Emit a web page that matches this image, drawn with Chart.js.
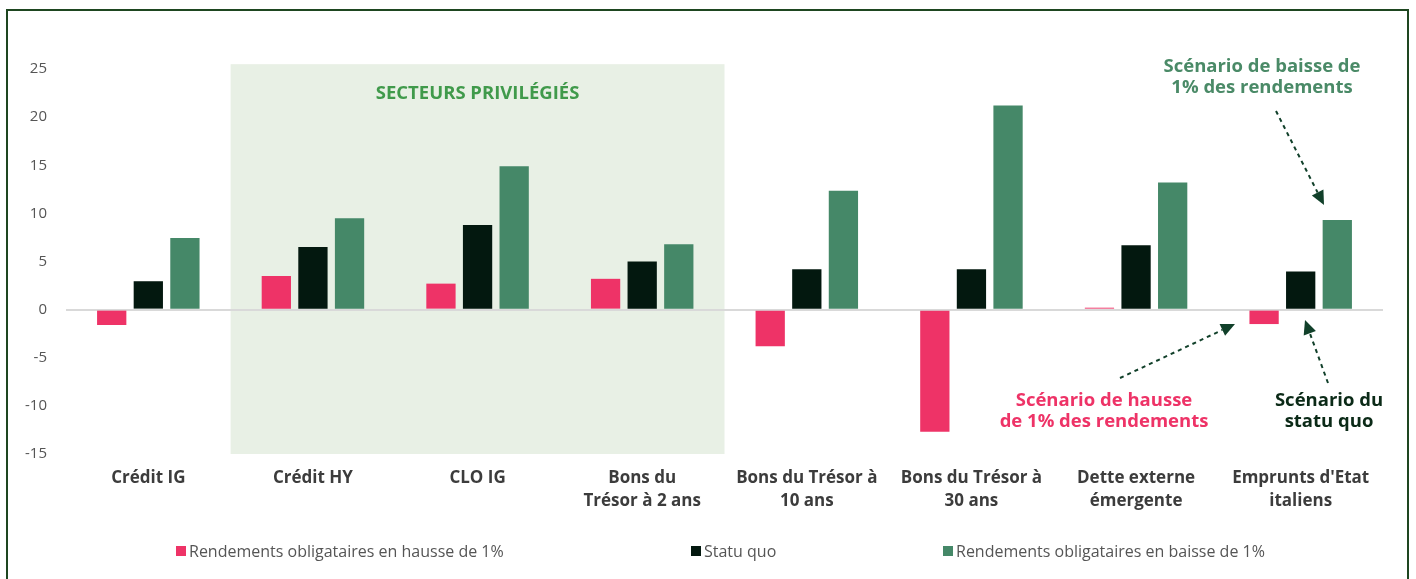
<!DOCTYPE html>
<html>
<head>
<meta charset="utf-8">
<script src="https://cdn.jsdelivr.net/npm/chart.js@4/dist/chart.umd.min.js"></script>
<style>
  html, body { margin: 0; padding: 0; background: #ffffff; overflow: hidden; }
  #wrap { position: relative; width: 1416px; height: 579px; }
  #frame { position: absolute; left: 6px; top: 9px; width: 1403px; height: 700px;
           border: 2px solid #1e4620; border-bottom: none; box-sizing: border-box; pointer-events: none; }
  canvas { position: absolute; left: 0; top: 0; }
</style>
</head>
<body>
<div id="wrap">
  <canvas id="c" width="1416" height="579"></canvas>
  <div id="frame"></div>
</div>
<script>
// ---------- DATA ----------
const categories = [
  ["Crédit IG"],
  ["Crédit HY"],
  ["CLO IG"],
  ["Bons du", "Trésor à 2 ans"],
  ["Bons du Trésor à", "10 ans"],
  ["Bons du Trésor à", "30 ans"],
  ["Dette externe", "émergente"],
  ["Emprunts d'Etat", "italiens"]
];
const seriesNames = [
  "Rendements obligataires en hausse de 1%",
  "Statu quo",
  "Rendements obligataires en baisse de 1%"
];
const hausse = [-1.6, 3.5, 2.7, 3.2, -3.8, -12.7, 0.2, -1.5];
const statuQuo = [2.95, 6.5, 8.8, 5.0, 4.2, 4.2, 6.7, 3.95];
const baisse = [7.45, 9.5, 14.9, 6.8, 12.35, 21.2, 13.2, 9.3];
const yTicks = [25, 20, 15, 10, 5, 0, -5, -10, -15];
const highlightTitle = "SECTEURS PRIVILÉGIÉS";
const highlightRange = [1, 3]; // category indexes of preferred sectors
const noteBaisse = ["Scénario de baisse de", "1% des rendements"];
const noteHausse = ["Scénario de hausse", "de 1% des rendements"];
const noteStatu = ["Scénario du", "statu quo"];

// ---------- STYLE ----------
const colors = ["#ee3367", "#03180f", "#458868"];
const legendX = [176, 691, 943];
const FONT = "'Open Sans', 'Noto Sans', sans-serif";

const decorPlugin = {
  id: 'decor',
  beforeDraw(chart) {
    const { ctx, scales: { x, y } } = chart;
    const catW = (x.right - x.left) / categories.length;
    const x0 = x.left + highlightRange[0] * catW;
    const x1 = x.left + (highlightRange[1] + 1) * catW;
    const yTop = y.getPixelForValue(25.5);
    const yBot = y.getPixelForValue(-15);
    ctx.save();
    ctx.fillStyle = "#e8f0e5";
    ctx.fillRect(x0, yTop, x1 - x0, yBot - yTop);
    ctx.restore();
  },
  afterDraw(chart) {
    const { ctx, scales: { x, y } } = chart;
    const catW = (x.right - x.left) / categories.length;
    const x0 = x.left + highlightRange[0] * catW;
    const x1 = x.left + (highlightRange[1] + 1) * catW;
    ctx.save();
    ctx.textAlign = 'center';
    ctx.textBaseline = 'middle';
    // highlight title
    ctx.font = "bold 18.5px " + FONT;
    ctx.fillStyle = "#409a4b";
    ctx.fillText(highlightTitle, (x0 + x1) / 2, 94);

    const lines = (arr, cx, cy, col) => {
      ctx.font = "bold 18.5px " + FONT;
      ctx.fillStyle = col;
      arr.forEach((t, i) => ctx.fillText(t, cx, cy + i * 21));
    };
    lines(noteBaisse, 1262, 67, "#4a8a67");
    lines(noteHausse, 1104, 401, "#ee3367");
    lines(noteStatu, 1329, 401, "#0b2a17");

    const arrow = (xa, ya, xb, yb) => {
      const ang = Math.atan2(yb - ya, xb - xa);
      const hl = 14, hw = 6.5;
      const bx = xb - hl * Math.cos(ang), by = yb - hl * Math.sin(ang);
      ctx.strokeStyle = "#11402a";
      ctx.fillStyle = "#11402a";
      ctx.lineWidth = 2;
      ctx.setLineDash([4, 4]);
      ctx.beginPath(); ctx.moveTo(xa, ya); ctx.lineTo(bx, by); ctx.stroke();
      ctx.setLineDash([]);
      ctx.beginPath();
      ctx.moveTo(xb, yb);
      ctx.lineTo(bx + hw * Math.sin(ang), by - hw * Math.cos(ang));
      ctx.lineTo(bx - hw * Math.sin(ang), by + hw * Math.cos(ang));
      ctx.closePath(); ctx.fill();
    };
    arrow(1276, 111, 1324, 205);
    arrow(1120, 378, 1235, 324);
    arrow(1328, 383, 1305, 320);

    // legend
    ctx.font = "16px " + FONT;
    ctx.textAlign = 'left';
    const box = 10, gapBox = 3;
    const ly = 551;
    seriesNames.forEach((n, i) => {
      const lx = legendX[i];
      ctx.fillStyle = colors[i];
      ctx.fillRect(lx, ly - 5, box, box);
      ctx.fillStyle = "#555555";
      ctx.fillText(n, lx + box + gapBox, ly + 1);
    });
    ctx.restore();
  }
};

new Chart(document.getElementById('c'), {
  type: 'bar',
  data: {
    labels: categories,
    datasets: [
      { label: seriesNames[0], data: hausse, backgroundColor: colors[0] },
      { label: seriesNames[1], data: statuQuo, backgroundColor: colors[1] },
      { label: seriesNames[2], data: baisse, backgroundColor: colors[2] }
    ]
  },
  options: {
    responsive: false,
    animation: false,
    devicePixelRatio: 1,
    layout: { padding: { left: 0, right: 33, top: 69, bottom: 65 } },
    datasets: { bar: { categoryPercentage: 0.667, barPercentage: 0.8, borderWidth: 0 } },
    plugins: { legend: { display: false }, tooltip: { enabled: false } },
    scales: {
      x: {
        grid: { display: false, drawTicks: false },
        border: { display: false },
        ticks: {
          color: "#3c3c3c",
          font: { family: FONT, size: 17, weight: 'bold', lineHeight: 1.35 },
          padding: 13, maxRotation: 0, autoSkip: false
        },
        afterFit(s) { s.height = 60; }
      },
      y: {
        min: -15, max: 25,
        grid: {
          drawTicks: false,
          color: c => c.tick.value === 0 ? '#d9d9d9' : 'transparent',
          lineWidth: 2
        },
        border: { display: false },
        afterBuildTicks(s) { s.ticks = yTicks.map(v => ({ value: v })); },
        ticks: {
          color: "#555555",
          font: { family: FONT, size: 15 },
          padding: 19
        },
        afterFit(s) { s.width = 66; }
      }
    }
  },
  plugins: [decorPlugin]
});
</script>
</body>
</html>
